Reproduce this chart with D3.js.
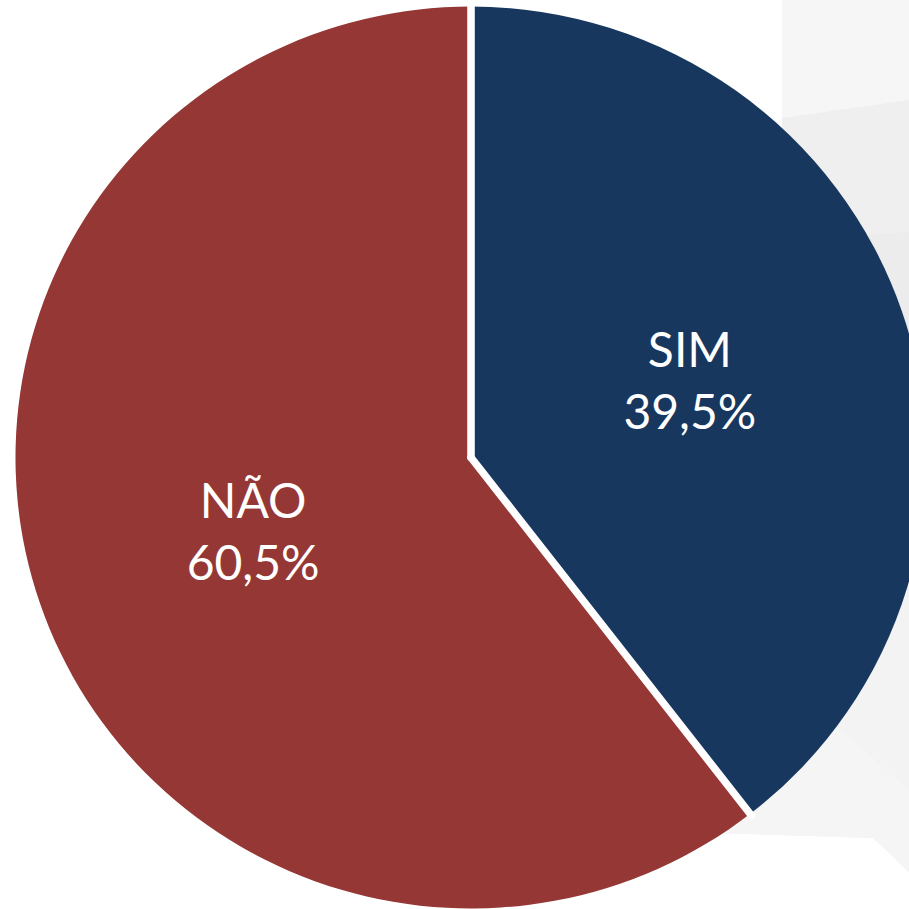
<!DOCTYPE html>
<html>
  <head>
    <meta charset="utf-8">
    <style>
      html, body { margin: 0; padding: 0; background: #fff; }
      svg { display: block; }
    </style>
  </head>
  <body>
    <script src="https://d3js.org/d3.v7.min.js"></script>
    <script type="text/javascript">
      const width = 909;
      const height = 909;

      const categories = ['SIM', 'NÃO'];
      const values = [39.5, 60.5];
      const colors = ['#17375e', '#953735'];

      const cx = 471;
      const cy = 457.5;
      const radius = 451;

      // light grey decoration behind the chart (right hand side of the slide)
      const bgShapes = [
        { fill: '#efefef', points: [[782, 0], [909, 0], [909, 872], [873, 838], [560, 828], [560, 300], [782, 300]] },
        { fill: '#f6f6f6', points: [[782, 0], [909, 0], [909, 100], [782, 118]] },
        { fill: '#ececec', points: [[782, 240], [909, 232], [909, 560], [782, 560]] },
        { fill: '#f3f3f3', points: [[700, 560], [909, 560], [909, 790], [838, 727], [700, 727]] },
        { fill: '#f5f5f5', points: [[560, 727], [838, 727], [909, 790], [909, 872], [873, 838], [560, 828]] }
      ];

      const data = categories.map((c, i) => ({ label: c, value: values[i] }));

      const svg = d3.select('body')
        .append('svg')
        .attr('width', width)
        .attr('height', height);

      svg.append('g')
        .selectAll('polygon')
        .data(bgShapes)
        .enter()
        .append('polygon')
        .attr('points', (d) => d.points.map((p) => p.join(',')).join(' '))
        .attr('fill', (d) => d.fill);

      const pie = d3.pie()
        .sort(null)
        .value((d) => d.value);
      const arcs = pie(data);

      const arc = d3.arc()
        .innerRadius(0)
        .outerRadius(radius);

      const g = svg.append('g')
        .attr('transform', `translate(${cx}, ${cy}) scale(1.01, 1)`);

      g.selectAll('path')
        .data(arcs)
        .enter()
        .append('path')
        .attr('d', arc)
        .attr('fill', (d, i) => colors[i]);

      // white separators between the slices only
      g.selectAll('line')
        .data(arcs)
        .enter()
        .append('line')
        .attr('x1', 0)
        .attr('y1', 0)
        .attr('x2', (d) => Math.sin(d.startAngle) * (radius + 2))
        .attr('y2', (d) => -Math.cos(d.startAngle) * (radius + 2))
        .attr('stroke', '#fff')
        .attr('stroke-width', 7.5)
        .attr('stroke-linecap', 'round');

      const labelArc = d3.arc()
        .innerRadius(radius * 0.52)
        .outerRadius(radius * 0.52);

      const fmt = (v) => v.toFixed(1).replace('.', ',') + '%';

      const labels = svg.append('g')
        .attr('transform', `translate(${cx}, ${cy})`)
        .selectAll('text')
        .data(arcs)
        .enter()
        .append('text')
        .attr('transform', (d) => {
          const c = labelArc.centroid(d);
          return `translate(${c[0] - 3}, ${c[1]})`;
        })
        .attr('text-anchor', 'middle')
        .attr('fill', '#fff')
        .style('font-family', 'Lato, "Open Sans", sans-serif')
        .style('font-size', '48px');

      labels.append('tspan')
        .attr('x', (d, i) => i === 0 ? 0 : 7)
        .attr('y', -15)
        .text((d) => d.data.label);
      labels.append('tspan')
        .attr('x', (d, i) => i === 0 ? 0 : 7)
        .attr('y', 47)
        .text((d) => fmt(d.data.value));
    </script>
  </body>
</html>
